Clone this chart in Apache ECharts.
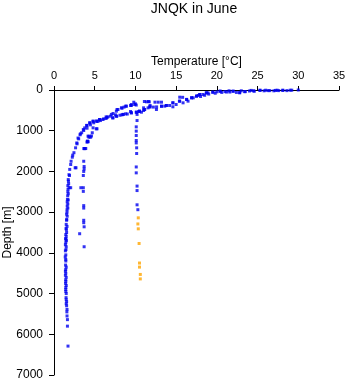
<!DOCTYPE html>
<html>
<head>
<meta charset="utf-8">
<script src="https://cdn.jsdelivr.net/npm/echarts@6/dist/echarts.min.js"></script>
<style>
html,body{margin:0;padding:0;background:#fff;}
#chart{width:348px;height:384px;}
</style>
</head>
<body>
<div id="chart"></div>
<script>
// Temperature [°C] vs Depth [m] pairs
var titleText = "JNQK in June";
var xTicks = [0, 5, 10, 15, 20, 25, 30, 35];
var yTicks = [0, 1000, 2000, 3000, 4000, 5000, 6000, 7000];

// main deep profile
var profileMain = [
  [30.0,0],[29.0,5],[28.1,10],[27.2,10],[26.5,15],[25.3,10],[24.5,20],[23.5,40],[22.8,60],[22.0,30],
  [21.2,50],[20.4,30],[19.5,55],[18.7,70],[17.9,110],[17.5,150],[16.9,190],[16.3,230],[15.4,275],[14.6,315],
  [13.8,380],[13.2,400],[12.6,415],[11.8,415],[11.1,480],[10.5,520],[10.1,545],[9.5,560],[8.5,600],[7.7,645],
  [7.2,685],[6.4,700],[5.6,725],[4.8,770],[4.4,810],[4.0,870],[3.6,970],[3.4,1050],[3.2,1100],[2.95,1180],
  [2.8,1300],[2.65,1420],[2.45,1540],[2.25,1650],[2.05,1830],[1.93,1950],[1.84,2080],[1.77,2240],[1.72,2440],
  [1.65,2690],[1.6,2940],[1.56,3180],[1.52,3430],[1.47,3670],[1.47,3920],[1.44,4160],[1.44,4410],[1.44,4660],
  [1.44,4900],[1.5,5150],[1.6,5390],[1.65,5640],[1.65,5800],[1.72,6290],
  [1.9,2100],[1.75,2200],[1.8,2300],[1.7,2350],[1.85,2400],[1.7,2500],[1.75,2550],[1.68,2600],[1.75,2700],
  [1.62,2750],[1.7,2800],[1.62,2850],[1.7,2900],[1.6,3000],[1.55,3050],[1.62,3100],[1.55,3200],[1.5,3300],
  [1.6,3350],[1.48,3400],[1.55,3500],[1.45,3550],[1.5,3600],[1.42,3650],[1.52,3700],[1.45,3750],[1.4,3800],
  [1.5,3850],[1.4,3950],[1.45,4050],[1.38,4100],[1.45,4200],[1.42,4300],[1.5,4350],[1.4,4450],[1.45,4500],
  [1.4,4550],[1.5,4600],[1.45,4700],[1.42,4750],[1.5,4800],[1.45,4850],[1.45,4950],[1.5,5000],[1.48,5100],
  [1.55,5200],[1.5,5250],[1.55,5300],[1.58,5450],[1.6,5550],[2.05,2400],[2.6,1910],[2.1,1750],[2.3,1600]
];

// profile near 3.5–4.7 °C
var profileMid = [
  [4.7,1050],[4.6,1130],[4.3,1135],[4.2,1270],[4.1,1260],[3.8,1440],[3.7,1440],[3.65,1750],[3.7,1880],
  [3.7,1940],[3.65,2000],[3.6,2100],[3.3,2400],[3.6,2400],[3.6,2490],[3.65,2840],[3.65,2900],[3.65,3200],
  [3.65,3260],[3.7,3360],[3.15,3530],[3.7,3850],[2.7,1910],[4.3,1160],[4.5,1160],[4.06,1282]
];

// profile near 10 °C (good values)
var profileWarm = [
  [10.2,600],[10.2,750],[10.1,905],[10.1,1010],[10.1,1118],[10.1,1240],[10.1,1300],[10.15,1420],[10.15,1560],
  [10.1,1890],[10.1,2035],[10.2,2360],[10.2,2470],[10.2,2820],[10.3,2940]
];

// upper-layer casts (0–1000 m)
var upperCasts = [
  [3.77,930],[4.06,870],[4.39,805],[4.8,765],[5.2,760],[5.6,725],[6.0,725],[6.4,660],[6.6,660],[7.05,600],
  [7.25,577],[7.66,520],[7.86,480],[8.28,437],[8.6,420],[8.9,397],[9.5,381],[9.9,356],[10.1,370],[9.5,356],
  [7.25,683],[7.66,643],[8.1,620],[8.48,600],[9.0,590],[9.5,561],[10.12,545],[10.5,520],[10.74,545],[11.14,479],
  [11.55,438],[11.76,413],[12.2,420],[12.58,479],[13.2,397],[13.6,397],[13.8,381],[14.2,380],[14.6,413],[14.6,315],
  [15.0,356],[15.44,274],[15.85,315],[16.27,233],[16.46,274],[16.9,192],[17.1,192],[17.5,151],[17.7,135],[17.9,110],
  [18.3,110],[18.72,70],[18.9,70],[19.5,53],[20.0,45],[20.4,29],[21.0,40],[21.5,20],[22.0,30],[22.4,60],
  [22.8,70],[23.4,40],[24.0,25],[24.6,30],[25.3,5],[25.8,20],[26.3,15],[27.0,20],[27.6,15],[28.1,5],
  [28.6,15],[29.2,5],[11.35,290],[11.7,290],[12.4,299],[12.8,299],[13.2,299],[15.44,176],[15.8,180],[11.0,438],
  [4.18,1134],[4.1,1257],[3.69,1437],[3.9,1437],[5.2,953],[4.8,929],[5.41,766],
  [11.1,283],[11.6,283],[11.8,380],[10.0,340],[9.8,300],[9.4,380],[8.8,397],[8.35,447],[7.74,479],[7.54,610],
  [6.93,643],[6.5,676],[6.1,708],[5.7,750],[5.28,774],[4.88,806],[4.47,856],[4.06,938],[3.65,995],[3.24,1077],
  [3.03,1200],[2.83,1322],[5.28,953],[9.4,528],[10.4,528],[11.0,504],[8.35,610],[8.8,585],
  [18.0,160],[18.5,130],[19.0,100],[19.8,80],[20.6,60],[21.6,50],[23.0,20],[24.2,10],[26.0,5],[27.4,5]
];

// flagged values (orange)
var flagged = [
  [10.35,3140],[10.3,3290],[10.35,3410],[10.45,3770],[10.5,4250],[10.5,4350],[10.6,4530],[10.6,4640]
];

var blue = '#0000f0';
var orange = '#ffa500';
var font = 'Liberation Sans, Arial, sans-serif';

var chart = echarts.init(document.getElementById('chart'), null, {renderer: 'canvas'});
function pts(data, color) {
  return {
    type: 'scatter',
    data: data,
    symbol: 'rect',
    symbolSize: [3, 3],
    itemStyle: {color: color},
    animation: false,
    silent: true
  };
}
chart.setOption({
  animation: false,
  title: {
    text: titleText,
    left: 194,
    textAlign: 'center',
    top: 2,
    padding: 0,
    textStyle: {fontFamily: font, fontSize: 14, fontWeight: 'normal', color: '#000'}
  },
  grid: {left: 54, top: 90, width: 285, height: 285, containLabel: false, outerBoundsMode: 'none'},
  xAxis: {
    type: 'value',
    position: 'top',
    min: xTicks[0],
    max: xTicks[xTicks.length - 1],
    interval: 5,
    name: 'Temperature [°C]',
    nameLocation: 'middle',
    nameGap: 22,
    nameMoveOverlap: false,
    nameTextStyle: {fontFamily: font, fontSize: 12, color: '#000'},
    axisLine: {show: true, lineStyle: {color: '#000', width: 1}},
    axisTick: {show: true, length: 4, lineStyle: {color: '#000'}},
    axisLabel: {fontFamily: font, fontSize: 11, color: '#000', margin: 9},
    splitLine: {show: false}
  },
  yAxis: {
    type: 'value',
    inverse: true,
    min: yTicks[0],
    max: yTicks[yTicks.length - 1],
    interval: 1000,
    name: 'Depth [m]',
    nameLocation: 'middle',
    nameGap: 40,
    nameMoveOverlap: false,
    nameTextStyle: {fontFamily: font, fontSize: 12, color: '#000'},
    axisLine: {show: true, lineStyle: {color: '#000', width: 1}},
    axisTick: {show: true, length: 5, lineStyle: {color: '#000'}},
    axisLabel: {fontFamily: font, fontSize: 12, color: '#000', margin: 11,
      formatter: function (v) { return String(v); }},
    splitLine: {show: false}
  },
  series: [
    pts(profileMain, blue),
    pts(profileMid, blue),
    pts(profileWarm, blue),
    pts(upperCasts, blue),
    pts(flagged, orange)
  ]
});
</script>
</body>
</html>
